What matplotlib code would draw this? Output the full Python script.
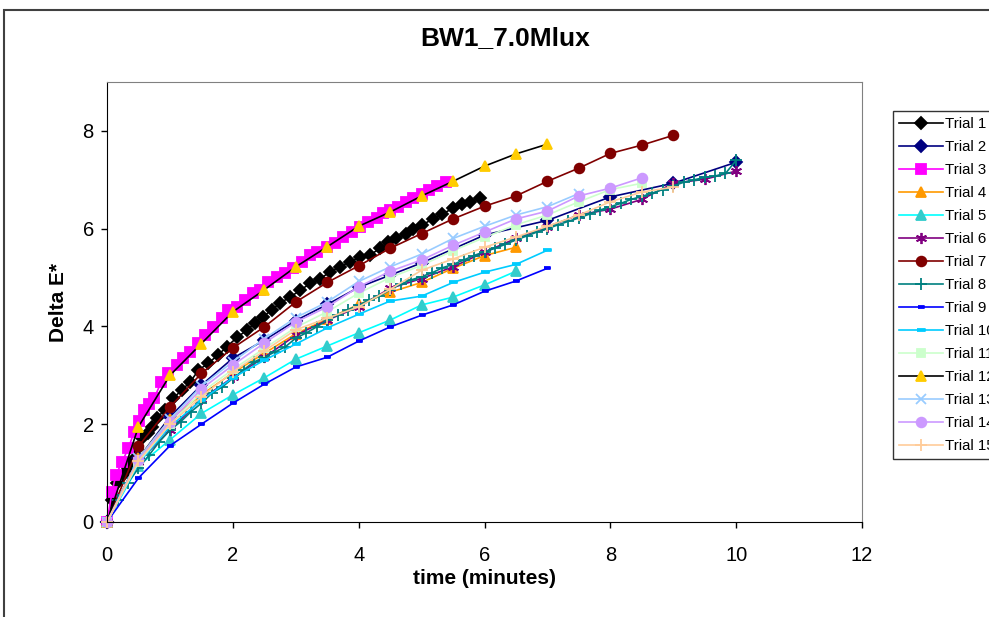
import matplotlib.pyplot as plt
from matplotlib.patches import Rectangle

plt.rcParams['font.family'] = ['Liberation Sans', 'DejaVu Sans']

# time (minutes) / Delta E* per trial
t_half = [0, 0.5, 1, 1.5, 2, 2.5, 3, 3.5, 4, 4.5, 5, 5.5, 6, 6.5, 7, 7.5, 8, 8.5, 9, 9.5, 10]

t1 = [0, 0.08, 0.16, 0.26, 0.33, 0.41, 0.48, 0.55, 0.65, 0.72, 0.79, 0.92, 1.05, 1.19, 1.32,
      1.45, 1.61, 1.76, 1.9, 2.07, 2.22, 2.35, 2.48, 2.62, 2.75, 2.91, 3.07, 3.23, 3.39, 3.55,
      3.7, 3.86, 4.02, 4.18, 4.34, 4.47, 4.6, 4.75, 4.87, 5.0, 5.18, 5.33, 5.5, 5.65, 5.77, 5.93]
v1 = [0, 0.45, 0.8, 0.96, 1.1, 1.27, 1.5, 1.72, 1.82, 1.95, 2.13, 2.29, 2.53, 2.7, 2.86,
      3.1, 3.25, 3.41, 3.58, 3.78, 3.92, 4.07, 4.2, 4.34, 4.48, 4.6, 4.74, 4.88, 4.98, 5.12,
      5.22, 5.32, 5.42, 5.46, 5.6, 5.73, 5.8, 5.9, 6.0, 6.07, 6.2, 6.3, 6.42, 6.5, 6.55, 6.63]

t2 = [0, 0.5, 1, 1.5, 2, 2.5, 3, 3.5, 4, 4.5, 5, 6, 7, 8, 9, 10]
v2 = [0, 1.3, 2.15, 2.8, 3.35, 3.72, 4.12, 4.45, 4.8, 5.05, 5.3, 5.87, 6.17, 6.65, 6.93, 7.36]

t3 = [0, 0.08, 0.14, 0.24, 0.34, 0.43, 0.51, 0.58, 0.67, 0.75, 0.86, 0.97, 1.11, 1.21, 1.32,
      1.45, 1.56, 1.69, 1.83, 1.92, 2.07, 2.19, 2.32, 2.43, 2.56, 2.7, 2.83, 2.96, 3.1, 3.23,
      3.34, 3.5, 3.63, 3.75, 3.9, 4.02, 4.15, 4.29, 4.39, 4.5, 4.62, 4.75, 4.87, 5.0, 5.12,
      5.25, 5.38]
v3 = [0, 0.61, 0.96, 1.23, 1.51, 1.84, 2.07, 2.29, 2.42, 2.53, 2.86, 3.04, 3.21, 3.35, 3.48,
      3.66, 3.82, 3.99, 4.17, 4.34, 4.4, 4.54, 4.68, 4.74, 4.91, 5.01, 5.09, 5.19, 5.32, 5.46,
      5.52, 5.62, 5.7, 5.83, 5.93, 6.03, 6.13, 6.21, 6.32, 6.38, 6.45, 6.55, 6.62, 6.7, 6.8,
      6.88, 6.95]

v4 = [0, 1.3, 2.1, 2.6, 3.05, 3.45, 3.85, 4.15, 4.45, 4.7, 4.9, 5.19, 5.45, 5.62]
v5 = [0, 1.15, 1.68, 2.22, 2.6, 2.95, 3.33, 3.6, 3.87, 4.13, 4.44, 4.6, 4.85, 5.13]
v6 = [0, 1.23, 1.88, 2.51, 2.96, 3.37, 3.82, 4.13, 4.4, 4.78, 4.98, 5.22, 5.52, 5.8, 6.04,
      6.28, 6.4, 6.6, 6.93, 7.01, 7.18]
v7 = [0, 1.55, 2.35, 3.04, 3.56, 3.99, 4.5, 4.9, 5.24, 5.6, 5.9, 6.2, 6.46, 6.67, 6.97,
      7.24, 7.54, 7.71, 7.91]

t8 = [0, 0.17, 0.33, 0.5, 0.67, 0.83, 1.0, 1.17, 1.33, 1.5, 1.67, 1.83, 2.0, 2.17, 2.33, 2.5,
      2.67, 2.83, 3.0, 3.17, 3.33, 3.5, 3.67, 3.83, 4.0, 4.17, 4.33, 4.5, 4.67, 4.83, 5.0,
      5.17, 5.33, 5.5, 5.67, 5.83, 6.0, 6.17, 6.33, 6.5, 6.67, 6.83, 7.0, 7.17, 7.33, 7.5,
      7.67, 7.83, 8.0, 8.17, 8.33, 8.5, 8.67, 8.83, 9.0, 9.17, 9.33, 9.5, 9.67, 9.83, 10.0]
v8 = [0, 0.45, 0.8, 1.1, 1.37, 1.64, 1.88, 2.05, 2.25, 2.43, 2.64, 2.76, 2.94, 3.11, 3.27, 3.37,
      3.48, 3.58, 3.76, 3.87, 3.99, 4.13, 4.24, 4.34, 4.44, 4.54, 4.62, 4.75, 4.87, 4.95, 5.02,
      5.1, 5.2, 5.27, 5.36, 5.45, 5.53, 5.6, 5.68, 5.77, 5.85, 5.93, 6.0, 6.08, 6.15, 6.22,
      6.3, 6.38, 6.45, 6.52, 6.6, 6.66, 6.73, 6.8, 6.88, 6.95, 7.0, 7.05, 7.08, 7.13, 7.4]

v9 = [0, 0.9, 1.56, 2.0, 2.43, 2.82, 3.17, 3.37, 3.7, 3.99, 4.23, 4.44, 4.72, 4.93, 5.19]
v10 = [0, 1.2, 1.95, 2.49, 2.95, 3.31, 3.64, 3.97, 4.25, 4.52, 4.62, 4.9, 5.11, 5.27, 5.56]
v11 = [0, 1.22, 2.0, 2.65, 3.12, 3.55, 3.98, 4.3, 4.68, 5.0, 5.25, 5.55, 5.82, 6.08, 6.28,
       6.55, 6.8, 6.93]
v12 = [0, 1.95, 3.0, 3.65, 4.3, 4.75, 5.22, 5.63, 6.05, 6.34, 6.67, 6.97, 7.28, 7.53, 7.73]
v13 = [0, 1.3, 2.1, 2.78, 3.28, 3.75, 4.18, 4.5, 4.92, 5.22, 5.48, 5.8, 6.05, 6.28, 6.45, 6.72]
v14 = [0, 1.27, 2.05, 2.72, 3.21, 3.66, 4.09, 4.4, 4.81, 5.13, 5.36, 5.66, 5.93, 6.2, 6.36,
       6.67, 6.83, 7.04]
v15 = [0, 1.25, 2.0, 2.56, 3.07, 3.5, 3.93, 4.17, 4.4, 4.76, 5.15, 5.38, 5.62, 5.83, 6.05,
       6.28, 6.55, 6.75, 6.85]

asterisk = (6, 2, 0)
dash = [(-1, -0.35), (1, -0.35), (1, 0.35), (-1, 0.35)]

# (times, values, line colour, marker, marker colour, marker size)
series = [
    (t1, v1, "#000000", "D", "#000000", 6),
    (t2, v2, "#000080", "D", "#000080", 6),
    (t3, v3, "#FF00FF", "s", "#FF00FF", 6.5),
    (t_half[:len(v4)], v4, "#FF9900", "^", "#FF9900", 7),
    (t_half[:len(v5)], v5, "#00FFFF", "^", "#33CCCC", 7),
    (t_half[:len(v6)], v6, "#800080", asterisk, "#800080", 8),
    (t_half[:len(v7)], v7, "#800000", "o", "#800000", 7),
    (t8, v8, "#008080", "+", "#008080", 8),
    (t_half[:len(v9)], v9, "#0000FF", dash, "#0000FF", 4),
    (t_half[:len(v10)], v10, "#00CCFF", dash, "#00CCFF", 6),
    (t_half[:len(v11)], v11, "#CCFFCC", "s", "#CCFFCC", 6),
    (t_half[:len(v12)], v12, "#000000", "^", "#FFCC00", 7.5),
    (t_half[:len(v13)], v13, "#99CCFF", "x", "#99CCFF", 7),
    (t_half[:len(v14)], v14, "#CC99FF", "o", "#CC99FF", 7),
    (t_half[:len(v15)], v15, "#FFCC99", "+", "#FFCC99", 8),
]

fig = plt.figure(figsize=(9.89, 6.17), dpi=100)
fig.patches.append(Rectangle((0.004, -0.05), 1.2, 1.034, transform=fig.transFigure,
                             fill=False, edgecolor="#404040", linewidth=1.5))
ax = fig.add_axes([0.1082, 0.154, 0.7634, 0.713])

for i, (t, v, lc, mk, mc, ms) in enumerate(series):
    ax.plot(t, v, color=lc, linewidth=1.2, marker=mk, markersize=ms,
            markerfacecolor=mc, markeredgecolor=mc, markeredgewidth=1.3,
            label=f"Trial {i + 1}", clip_on=False)

ax.set_xlim(0, 12)
ax.set_ylim(0, 9)
ax.set_xticks(range(0, 13, 2))
ax.set_yticks(range(0, 9, 2))
ax.tick_params(direction="out", length=4.5, labelsize=14.5, width=1)
ax.tick_params(axis="x", pad=13)
ax.tick_params(axis="y", pad=5)
for side in ("top", "right"):
    ax.spines[side].set_color("#808080")
for side in ("left", "bottom"):
    ax.spines[side].set_color("#000000")

ax.set_xlabel("time (minutes)", fontsize=15, fontweight="bold")
ax.xaxis.set_label_coords(0.5, -0.108)
ax.set_ylabel("Delta E*", fontsize=15, fontweight="bold")
ax.yaxis.set_label_coords(-0.052, 0.5)
fig.text(0.511, 0.938, "BW1_7.0Mlux", fontsize=19, fontweight="bold",
         ha="center", va="center")

leg = fig.legend(loc="upper left", bbox_to_anchor=(893 / 989, 1 - 111 / 617),
                 fontsize=10.8, frameon=True, fancybox=False, borderaxespad=0,
                 handlelength=2.9, labelspacing=0.6, handletextpad=0.15,
                 borderpad=0.4)
leg.get_frame().set_edgecolor("#000000")
leg.get_frame().set_linewidth(1)

fig.savefig("out.png", dpi=100)
